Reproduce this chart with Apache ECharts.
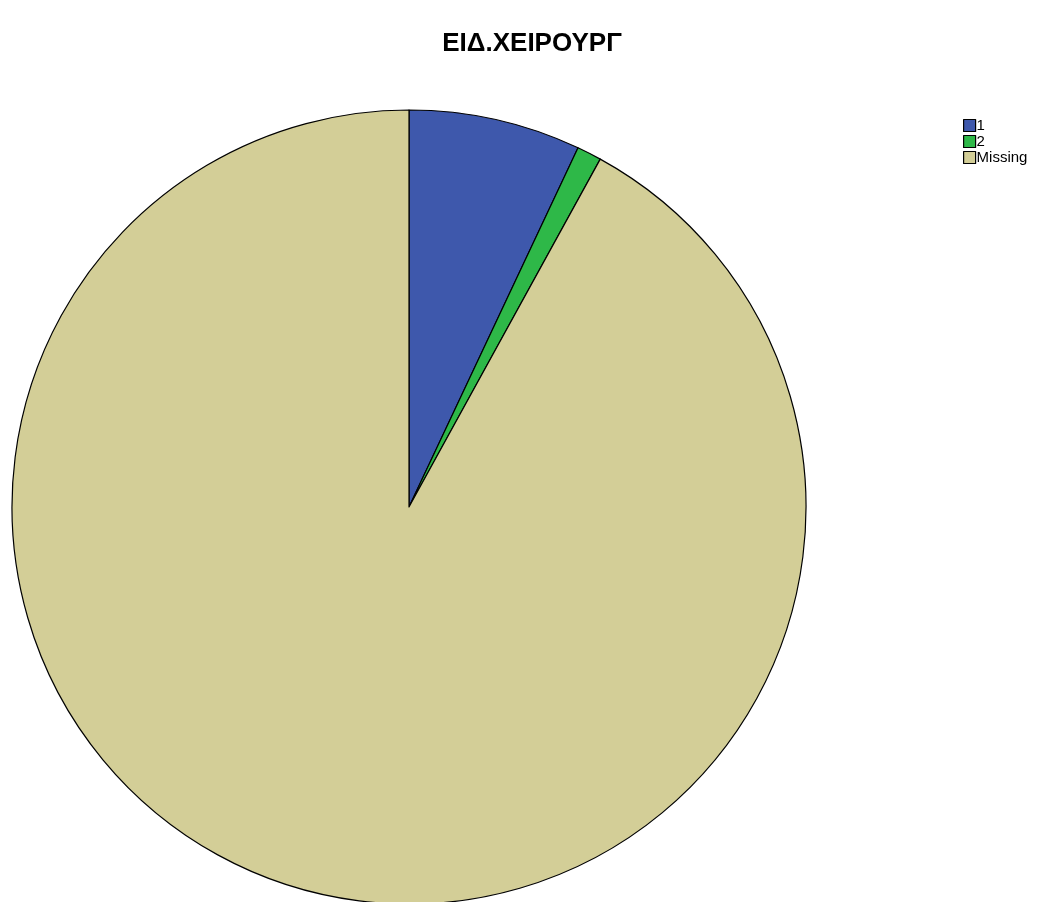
<!DOCTYPE html>
<html>
<head>
<meta charset="utf-8">
<script src="https://cdn.jsdelivr.net/npm/echarts@6/dist/echarts.min.js"></script>
<style>
  html, body { margin: 0; padding: 0; background: #ffffff; }
  #chart { width: 1064px; height: 902px; }
</style>
</head>
<body>
<div id="chart"></div>
<script>
// Category labels and their shares (percent of cases)
const categories = ['1', '2', 'Missing'];
const values = [7, 1, 92];
const colors = ['#3E58AC', '#2EB848', '#D3CE97'];

const chart = echarts.init(document.getElementById('chart'), null, { renderer: 'canvas' });

chart.setOption({
  backgroundColor: '#ffffff',
  animation: false,
  title: {
    text: 'ΕΙΔ.ΧΕΙΡΟΥΡΓ',
    left: 'center',
    top: 26,
    textStyle: {
      fontFamily: 'Liberation Sans, Arial, sans-serif',
      fontSize: 26,
      fontWeight: 'bold',
      color: '#000000'
    }
  },
  legend: {
    orient: 'vertical',
    left: 958,
    top: 113,
    itemWidth: 12,
    itemHeight: 12,
    itemGap: 1,
    icon: 'rect',
    data: categories,
    textStyle: {
      fontFamily: 'Liberation Sans, Arial, sans-serif',
      fontSize: 15,
      lineHeight: 14,
      color: '#000000',
      padding: [0, 0, 0, -4]
    },
    itemStyle: { borderColor: '#000000', borderWidth: 1.2 }
  },
  series: [{
    type: 'pie',
    center: [409, 507],
    radius: [0, 397],
    startAngle: 90,
    clockwise: true,
    label: { show: false },
    labelLine: { show: false },
    emphasis: { disabled: true },
    itemStyle: { borderColor: '#000000', borderWidth: 1.2 },
    data: categories.map((c, i) => ({
      name: c,
      value: values[i],
      itemStyle: { color: colors[i] }
    }))
  }]
});
</script>
</body>
</html>
